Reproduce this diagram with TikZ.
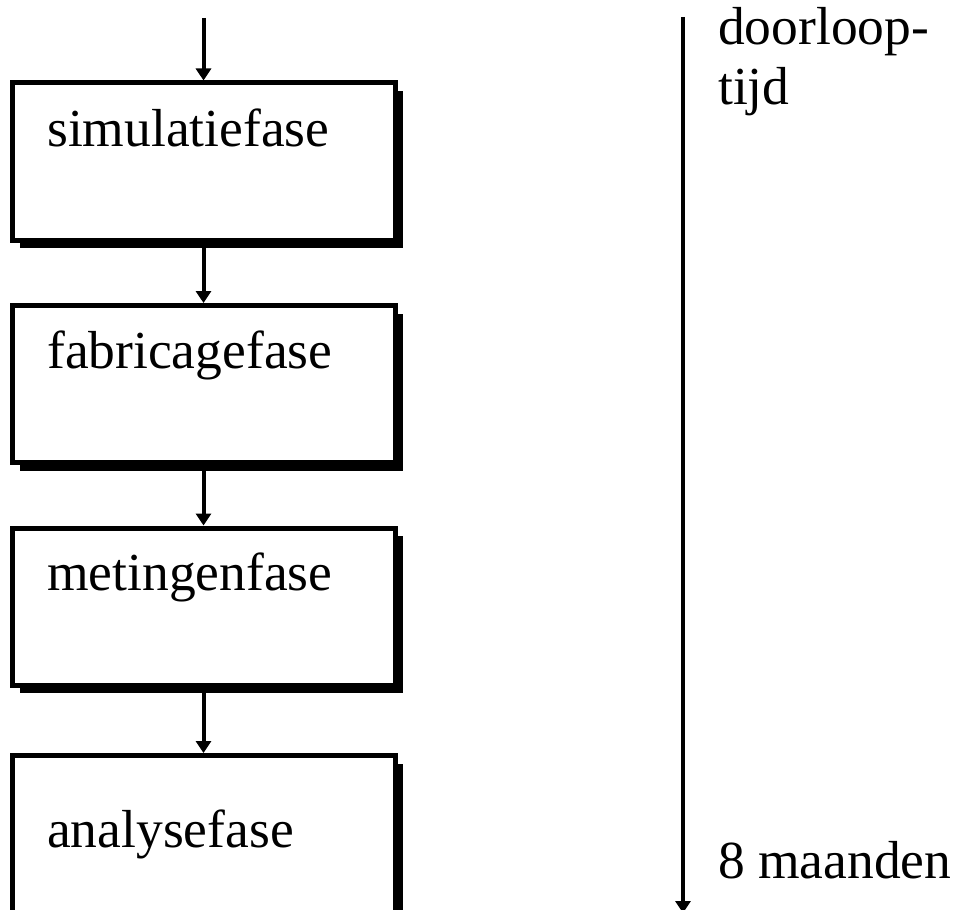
\documentclass[tikz,border=0pt]{standalone}
\usepackage{fontspec}
\setmainfont{Liberation Serif}
\usetikzlibrary{arrows.meta,shadows}
\begin{document}
\begin{tikzpicture}[x=1pt,y=-1pt,
  phase/.style={draw=black, line width=5pt, fill=white, minimum width=383pt, minimum height=157pt, inner sep=0pt,
    drop shadow={shadow xshift=8pt, shadow yshift=-8pt, fill=black, opacity=1}},
  lbl/.style={font=\fontsize{53.5}{60}\selectfont, inner sep=0pt, anchor=base west},
  flow/.style={line width=4pt, -{Triangle[width=15pt,length=12pt]}}]
\useasboundingbox (0,0) rectangle (957,909);
\clip (0,0) rectangle (957,909);
\node[phase] (b1) at (203.5,161.5) {};
\node[phase] (b2) at (203.5,384) {};
\node[phase] (b3) at (203.5,606.5) {};
\node[phase] (b4) at (203.5,834) {};
\node[lbl] (t1) at (47,147) {simulatiefase};
\node[lbl] (t2) at (47,368) {fabricagefase};
\node[lbl] (t3) at (47,590) {metingenfase};
\node[lbl] (t4) at (47,847) {analysefase};
\coordinate (in) at (203.5,18);
\draw[flow] (in) -- (b1.north);
\draw[flow] (b1.south) -- (b2.north);
\draw[flow] (b2.south) -- (b3.north);
\draw[flow] (b3.south) -- (b4.north);
\coordinate (ts) at (683,17);
\coordinate (te) at (683,913);
\draw[flow] (ts) -- (te);
\node[lbl] (d1) at (718,45) {doorloop-};
\node[lbl] (d2) at (718,105) {tijd};
\node[lbl] (d3) at (718,878) {8 maanden};
\end{tikzpicture}
\end{document}
